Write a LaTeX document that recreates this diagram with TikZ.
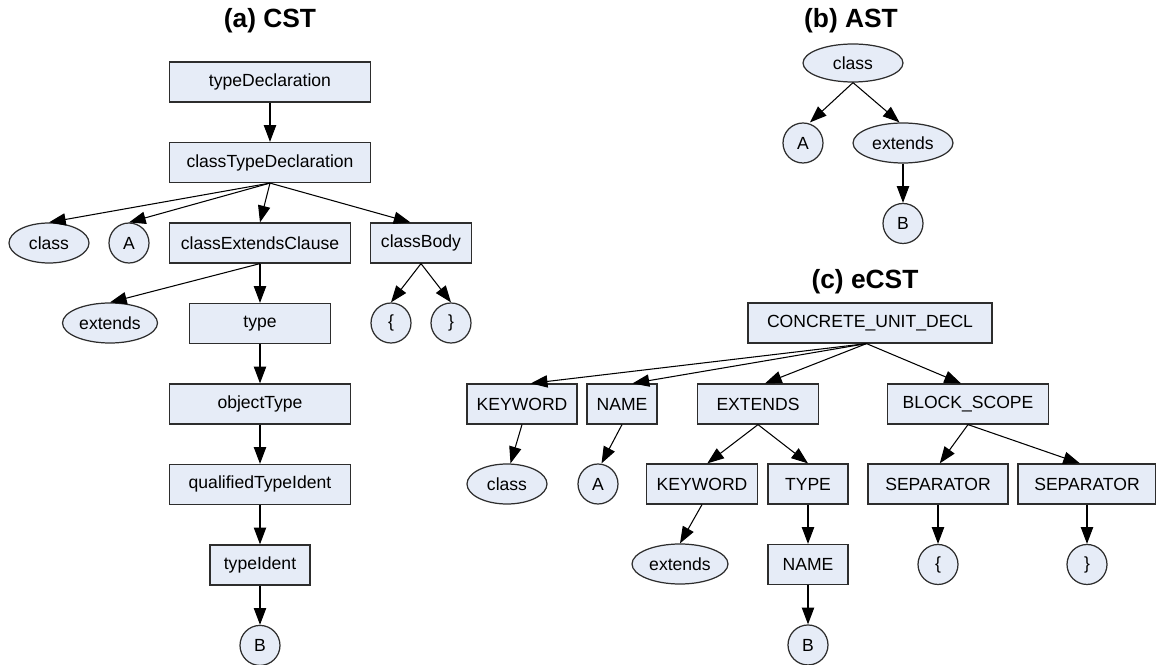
\documentclass[tikz,border=0pt]{standalone}
\usepackage{fontspec}
\setmainfont{Liberation Sans}
\usepackage{tikz}
\usetikzlibrary{shapes,arrows.meta,positioning}
\definecolor{nodefill}{RGB}{230,236,247}
\definecolor{nodeline}{RGB}{45,45,45}

\begin{document}
\begin{tikzpicture}[x=0.02cm, y=0.02cm, node distance=1.61cm, >={Triangle[length=9.5pt,width=7pt]},
        font=\fontsize{10}{12}\selectfont,
        treebox/.style={rectangle, draw=nodeline, fill=nodefill, line width=0.7pt, minimum height=0.8cm, inner sep=2pt},
        treeoval/.style={ellipse, draw=nodeline, fill=nodefill, line width=0.7pt, minimum height=0.8cm, inner sep=0pt},
        treeleaf/.style={circle, draw=nodeline, fill=nodefill, line width=0.7pt, minimum size=0.8cm, inner sep=0pt},
        paneltitle/.style={font=\fontsize{15}{18}\selectfont\bfseries},
        link/.style={->, line width=0.6pt, black}]
        \useasboundingbox (0,0) rectangle (1156,-665);

        % (a) CST
        \node[paneltitle] (titlea) at (270,-21) {(a) CST};
        \node[treebox, minimum width=4.02cm] (typedecl) at (270,-82) {typeDeclaration};
        \node[treebox, minimum width=4.02cm, below of=typedecl] (classtypedecl) {classTypeDeclaration};
        \node[treeoval, minimum width=1.6cm] (cstclass) at (49,-243) {class};
        \node[treeleaf] (cstA) at (129,-243) {A};
        \node[treebox, minimum width=3.62cm] (extclause) at (260,-243) {classExtendsClause};
        \node[treebox, minimum width=2.02cm] (classbody) at (421,-243) {classBody};
        \node[treeoval, minimum width=1.9cm] (cstextends) at (110,-323) {extends};
        \node[treebox, minimum width=2.82cm, below of=extclause] (csttype) {type};
        \node[treeleaf] (cstlbrace) at (391,-323) {\{};
        \node[treeleaf] (cstrbrace) at (451,-323) {\}};
        \node[treebox, minimum width=3.62cm, below of=csttype] (objtype) {objectType};
        \node[treebox, minimum width=3.62cm, below of=objtype] (qualident) {qualifiedTypeIdent};
        \node[treebox, minimum width=2.0cm, below of=qualident] (typeident) {typeIdent};
        \node[treeleaf, below of=typeident] (cstB) {B};

        \draw[link] (typedecl.south) -- (classtypedecl.north);
        \draw[link] (classtypedecl.south) -- (cstclass.north);
        \draw[link] (classtypedecl.south) -- (cstA.north);
        \draw[link] (classtypedecl.south) -- (extclause.north);
        \draw[link] (classtypedecl.south) -- ([xshift=-6pt]classbody.north);
        \draw[link] (extclause.south) -- (cstextends.north);
        \draw[link] (extclause.south) -- (csttype.north);
        \draw[link] (classbody.south) -- (cstlbrace.north);
        \draw[link] (classbody.south) -- (cstrbrace.north);
        \draw[link] (csttype.south) -- (objtype.north);
        \draw[link] (objtype.south) -- (qualident.north);
        \draw[link] (qualident.south) -- (typeident.north);
        \draw[link] (typeident.south) -- (cstB.north);

        % (b) AST
        \node[paneltitle] (titleb) at (851,-21) {(b) AST};
        \node[treeoval, minimum width=2cm, minimum height=0.76cm] (astclass) at (853,-63) {class};
        \node[treeleaf] (astA) at (803,-143) {A};
        \node[treeoval, minimum width=2cm] (astextends) at (903,-143) {extends};
        \node[treeleaf, below of=astextends] (astB) {B};

        \draw[link] (astclass.south) -- ([xshift=4pt]astA.north);
        \draw[link] (astclass.south) -- ([xshift=-2pt]astextends.north);
        \draw[link] (astextends.south) -- (astB.north);

        % (c) eCST
        \node[paneltitle] (titlec) at (865,-282) {(c) eCST};
        \node[treebox, minimum width=4.88cm] (unitdecl) at (870,-323) {CONCRETE\_UNIT\_DECL};
        \node[treebox, minimum width=2.2cm] (keyword) at (522,-404) {KEYWORD};
        \node[treebox, minimum width=1.4cm] (name) at (622,-404) {NAME};
        \node[treebox, minimum width=2.42cm] (extends) at (758,-404) {EXTENDS};
        \node[treebox, minimum width=3.22cm] (blockscope) at (968,-404) {BLOCK\_SCOPE};
        \node[treeoval, minimum width=1.6cm] (ecstclass) at (507,-484) {class};
        \node[treeleaf] (ecstA) at (598,-484) {A};
        \node[treebox, minimum width=2.22cm] (keywordb) at (702,-484) {KEYWORD};
        \node[treebox, minimum width=1.6cm] (typenode) at (808,-484) {TYPE};
        \node[treebox, minimum width=2.8cm] (sepleft) at (938,-484) {SEPARATOR};
        \node[treebox, minimum width=2.76cm] (sepright) at (1087,-484) {SEPARATOR};
        \node[treeoval, minimum width=1.92cm] (ecstextends) at (680,-564) {extends};
        \node[treebox, minimum width=1.6cm, below of=typenode] (nameb) {NAME};
        \node[treeleaf, below of=sepleft] (ecstlbrace) {\{};
        \node[treeleaf, below of=sepright] (ecstrbrace) {\}};
        \node[treeleaf, below of=nameb] (ecstB) {B};

        \draw[link] ([xshift=-2pt]unitdecl.south) -- ([xshift=5pt]keyword.north);
        \draw[link] ([xshift=-2pt]unitdecl.south) -- ([xshift=6pt]name.north);
        \draw[link] ([xshift=-2pt]unitdecl.south) -- ([xshift=4pt]extends.north);
        \draw[link] ([xshift=-2pt]unitdecl.south) -- ([xshift=-4pt]blockscope.north);
        \draw[link] (keyword.south) -- ([xshift=2pt]ecstclass.north);
        \draw[link] (name.south) -- ([xshift=2pt]ecstA.north);
        \draw[link] (extends.south) -- ([xshift=3pt]keywordb.north);
        \draw[link] (extends.south) -- (typenode.north);
        \draw[link] (blockscope.south) -- ([xshift=1pt]sepleft.north);
        \draw[link] (blockscope.south) -- ([xshift=-4pt]sepright.north);
        \draw[link] (keywordb.south) -- (ecstextends.north);
        \draw[link] (typenode.south) -- (nameb.north);
        \draw[link] (sepleft.south) -- (ecstlbrace.north);
        \draw[link] (sepright.south) -- (ecstrbrace.north);
        \draw[link] (nameb.south) -- (ecstB.north);
    \end{tikzpicture}
\end{document}
